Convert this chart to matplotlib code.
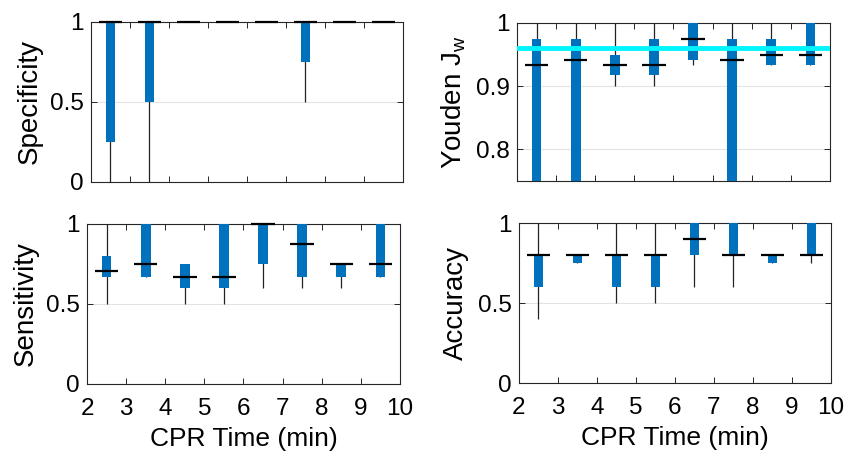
import matplotlib
matplotlib.use("Agg")
import matplotlib.pyplot as plt
import numpy as np

plt.rcParams['font.family'] = ['Liberation Sans', 'DejaVu Sans']
plt.rcParams['mathtext.default'] = 'regular'

positions = [2.5, 3.5, 4.5, 5.5, 6.5, 7.5, 8.5, 9.5]
x_ticks = [2, 3, 4, 5, 6, 7, 8, 9, 10]

spec_lo = [0, 0, 1, 1, 1, 0.5, 1, 1]
spec_q1 = [0.25, 0.5, 1, 1, 1, 0.75, 1, 1]
spec_med = [1, 1, 1, 1, 1, 1, 1, 1]
spec_q3 = [1, 1, 1, 1, 1, 1, 1, 1]
spec_hi = [1, 1, 1, 1, 1, 1, 1, 1]

youd_lo = [0.5, 0.5, 0.9, 0.9, 0.934, 0.5, 0.933, 0.933]
youd_q1 = [0.6, 0.6, 0.917, 0.917, 0.942, 0.6, 0.933, 0.933]
youd_med = [0.933, 0.941, 0.933, 0.933, 0.975, 0.941, 0.95, 0.95]
youd_q3 = [0.975, 0.975, 0.95, 0.975, 1, 0.975, 0.975, 1]
youd_hi = [1, 1, 1, 1, 1, 1, 1, 1]
youd_threshold = 0.96

sens_lo = [0.5, 0.667, 0.5, 0.5, 0.6, 0.6, 0.6, 0.667]
sens_q1 = [0.667, 0.667, 0.6, 0.6, 0.75, 0.667, 0.667, 0.667]
sens_med = [0.708, 0.75, 0.667, 0.667, 1, 0.875, 0.75, 0.75]
sens_q3 = [0.8, 1, 0.75, 1, 1, 1, 0.75, 1]
sens_hi = [1, 1, 0.75, 1, 1, 1, 0.75, 1]

acc_lo = [0.4, 0.75, 0.5, 0.5, 0.6, 0.6, 0.75, 0.75]
acc_q1 = [0.6, 0.75, 0.6, 0.6, 0.8, 0.8, 0.75, 0.8]
acc_med = [0.8, 0.8, 0.8, 0.8, 0.9, 0.8, 0.8, 0.8]
acc_q3 = [0.8, 0.8, 0.8, 0.8, 1, 1, 0.8, 1]
acc_hi = [1, 0.8, 1, 1, 1, 1, 0.8, 1]

BLUE = '#0072BD'
FS = 17.5
LFS_Y = 20
LFS_X = 19

fig = plt.figure(figsize=(8.45, 4.55), dpi=100)

def panel(rect, lo, q1, med, q3, hi, ylim, yticks, yticklabels, ylabel, xlabels, ypad):
    ax = fig.add_axes(rect)
    pos = np.array(positions)
    lo, q1, med, q3, hi = map(np.array, (lo, q1, med, q3, hi))
    ax.vlines(pos, lo, hi, color='#222222', lw=0.9, zorder=2)
    ax.bar(pos, q3 - q1, bottom=q1, width=0.25, color=BLUE, zorder=3)
    ax.hlines(med, pos - 0.3, pos + 0.3, color='k', lw=1.6, zorder=5, clip_on=False)
    ax.set_xlim(2, 10)
    ax.set_ylim(*ylim)
    ax.set_xticks(x_ticks)
    ax.set_yticks(yticks)
    ax.set_yticklabels(yticklabels)
    if xlabels:
        ax.set_xticklabels([str(t) for t in x_ticks])
        ax.set_xlabel('CPR Time (min)', fontsize=LFS_X, labelpad=5)
    else:
        ax.set_xticklabels([])
    ax.set_ylabel(ylabel, fontsize=LFS_Y, labelpad=ypad)
    ax.tick_params(direction='in', top=True, right=True, length=4, width=0.7,
                   labelsize=FS, colors='#262626', labelcolor='k', pad=5)
    ax.tick_params(axis='x', pad=10)
    ax.yaxis.grid(True, color='#e3e3e3', lw=0.8, zorder=0)
    ax.set_axisbelow(True)
    for s in ax.spines.values():
        s.set_color('#262626')
        s.set_linewidth(0.8)
    return ax

ax1 = panel([91/845, 1-182/455, 312/845, 160/455], spec_lo, spec_q1, spec_med, spec_q3, spec_hi,
            (0, 1), [0, 0.5, 1], ['0', '0.5', '1'], 'Specificity', False, 5)
ax2 = panel([517/845, 1-181/455, 313/845, 158/455], youd_lo, youd_q1, youd_med, youd_q3, youd_hi,
            (0.75, 1), [0.8, 0.9, 1], ['0.8', '0.9', '1'], 'Youden J$_w$', False, 6)
ax2.axhline(youd_threshold, color='#00F5FF', lw=3.5, zorder=4)
ax3 = panel([87/845, 1-384/455, 313/845, 160/455], sens_lo, sens_q1, sens_med, sens_q3, sens_hi,
            (0, 1), [0, 0.5, 1], ['0', '0.5', '1'], 'Sensitivity', True, 5)
ax4 = panel([519/845, 1-383/455, 312/845, 160/455], acc_lo, acc_q1, acc_med, acc_q3, acc_hi,
            (0, 1), [0, 0.5, 1], ['0', '0.5', '1'], 'Accuracy', True, 7)

fig.savefig('out.png', dpi=100)
